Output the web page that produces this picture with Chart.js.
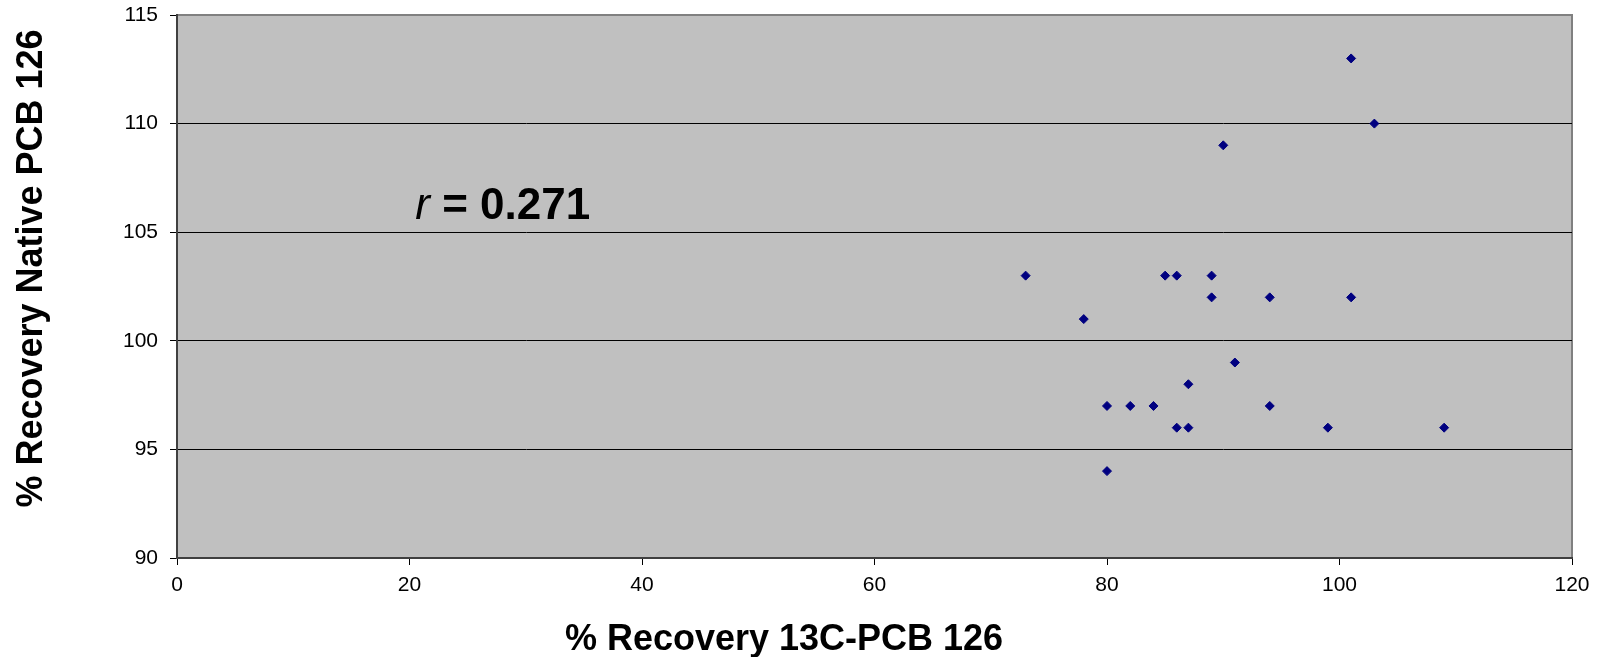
<!DOCTYPE html>
<html>
<head>
<meta charset="utf-8">
<script src="https://cdn.jsdelivr.net/npm/chart.js@4/dist/chart.umd.min.js"></script>
<style>
  html, body { margin: 0; padding: 0; background: #ffffff; }
  #wrap { width: 1600px; height: 657px; }
</style>
</head>
<body>
<div id="wrap"><canvas id="c" width="1600" height="657"></canvas></div>
<script>
// ---- data ----
const recovery13C = [101, 103, 90, 73, 85, 86, 89, 89, 94, 101, 78, 91, 87, 80, 82, 84, 94, 86, 87, 99, 109, 80];
const recoveryNative = [113, 110, 109, 103, 103, 103, 103, 102, 102, 102, 101, 99, 98, 97, 97, 97, 97, 96, 96, 96, 96, 94];
const xTickRange = [0, 120, 20];   // min, max, step
const yTickRange = [90, 115, 5];   // min, max, step
const xTitle = '% Recovery 13C-PCB 126';
const yTitle = '% Recovery Native PCB 126';
const annotationLabel = ['r', ' = 0.271'];
const annotationAt = [20.5, 105.6]; // data coordinates of the text start / baseline

const points = recovery13C.map((x, i) => ({ x: x, y: recoveryNative[i] }));
const FONT = "'Liberation Sans', Arial, sans-serif";

const plotDecor = {
  id: 'plotDecor',
  beforeDraw(chart) {
    const { ctx, chartArea: a } = chart;
    ctx.save();
    ctx.fillStyle = '#c0c0c0';
    ctx.fillRect(a.left, a.top, a.right - a.left, a.bottom - a.top);
    ctx.strokeStyle = '#808080';
    ctx.lineWidth = 2;
    ctx.beginPath();
    ctx.moveTo(a.left, a.top);
    ctx.lineTo(a.right, a.top);
    ctx.lineTo(a.right, a.bottom);
    ctx.stroke();
    ctx.restore();
  },
  afterDraw(chart) {
    const { ctx } = chart;
    const xs = chart.scales.x, ys = chart.scales.y;
    ctx.save();
    ctx.fillStyle = '#000000';
    // axis titles
    ctx.font = 'bold 36px ' + FONT;
    ctx.textAlign = 'center';
    ctx.textBaseline = 'alphabetic';
    ctx.fillText(xTitle, 784, 650);
    ctx.translate(41.5, 268.5);
    ctx.rotate(-Math.PI / 2);
    ctx.fillText(yTitle, 0, 0);
    ctx.restore();
    // annotation
    ctx.save();
    ctx.fillStyle = '#000000';
    ctx.textAlign = 'left';
    ctx.textBaseline = 'alphabetic';
    let px = xs.getPixelForValue(annotationAt[0]);
    const py = ys.getPixelForValue(annotationAt[1]);
    ctx.font = 'italic 44px ' + FONT;
    ctx.fillText(annotationLabel[0], px, py);
    px += ctx.measureText(annotationLabel[0]).width;
    ctx.font = 'bold 44px ' + FONT;
    ctx.fillText(annotationLabel[1], px, py);
    ctx.restore();
  }
};

new Chart(document.getElementById('c'), {
  type: 'scatter',
  data: {
    datasets: [{
      data: points,
      pointStyle: 'rectRot',
      pointRadius: 4.5,
      pointHoverRadius: 4.5,
      backgroundColor: '#000080',
      borderColor: '#000080',
      borderWidth: 1
    }]
  },
  options: {
    responsive: false,
    animation: false,
    devicePixelRatio: 1,
    layout: { padding: { top: 15, right: 28, left: 0, bottom: 0 } },
    plugins: { legend: { display: false }, tooltip: { enabled: false } },
    scales: {
      x: {
        type: 'linear',
        min: xTickRange[0], max: xTickRange[1],
        afterFit(s) { s.height = 99; s.paddingLeft = 0; s.paddingRight = 0; },
        ticks: { stepSize: xTickRange[2], color: '#000', padding: 8, font: { family: FONT, size: 21 } },
        grid: { drawOnChartArea: false, drawTicks: true, tickLength: 7, tickColor: '#000', tickWidth: 1 },
        border: { display: true, color: '#404040', width: 2 }
      },
      y: {
        type: 'linear',
        min: yTickRange[0], max: yTickRange[1],
        afterFit(s) { s.width = 177; s.paddingTop = 0; s.paddingBottom = 0; },
        ticks: { stepSize: yTickRange[2], color: '#000', padding: 12, font: { family: FONT, size: 21 } },
        grid: {
          drawOnChartArea: true, drawTicks: true, tickLength: 7, tickColor: '#000', tickWidth: 1, lineWidth: 1,
          color: (c) => (c.tick && (c.tick.value === yTickRange[1] || c.tick.value === yTickRange[0])) ? 'rgba(0,0,0,0)' : '#000'
        },
        border: { display: true, color: '#404040', width: 2 }
      }
    }
  },
  plugins: [plotDecor]
});
</script>
</body>
</html>
